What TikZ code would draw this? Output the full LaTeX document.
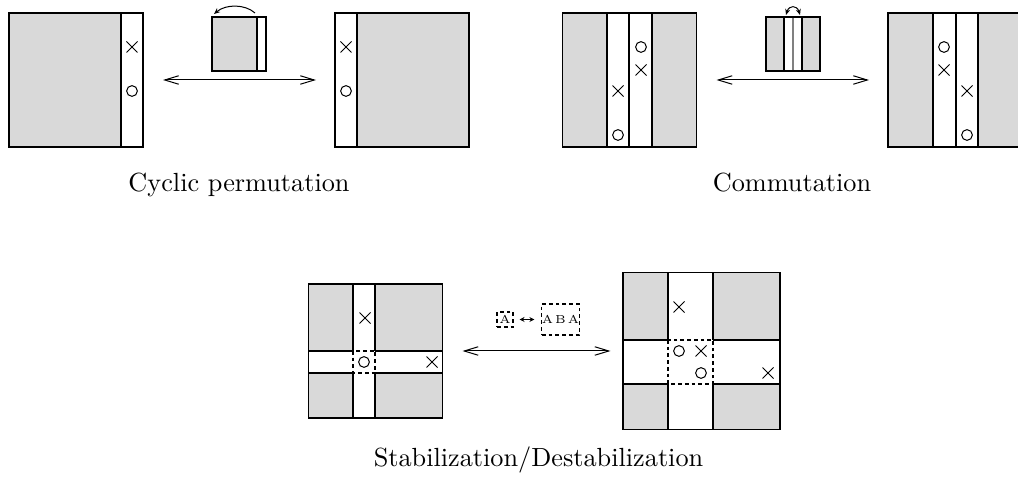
\documentclass[tikz,border=0pt]{standalone}
\usetikzlibrary{arrows.meta,shapes.misc}
\colorlet{tile}{black!15}
\begin{document}
\begin{tikzpicture}[
  x=0.4pt, y=-0.4pt, line width=0.42pt,
  frame/.style={draw, minimum size=#1, inner sep=0pt, outer sep=0pt},
  xmark/.style={cross out, draw, minimum size=4pt, inner sep=0pt, line width=0.4pt},
  omark/.style={circle, draw, minimum size=4.3pt, inner sep=0pt, line width=0.4pt},
  dbox/.style={draw, dash pattern=on 1.5pt off 1.2pt},
  move/.style={{Straight Barb[length=5.6pt,width=3.4pt]}-{Straight Barb[length=5.6pt,width=3.4pt]}, line width=0.4pt},
  twist/.style={-{Stealth[length=2.4pt,width=2pt]}, line width=0.4pt},
  lbl/.style={anchor=base, font=\fontsize{10.5}{12}\selectfont},
  tiny/.style={font=\fontsize{4.6}{5}\selectfont, inner sep=0pt}
]
\useasboundingbox (0,0) rectangle (1018,477);

\fill[tile] (9,13) rectangle (121,147);
\draw (121,13) -- (121,147);
\node[frame=53.6pt] (cpL) at (76,80) {};
  \node[xmark] (cpL-x) at (132,47) {};
  \node[omark] (cpL-o) at (132,91) {};
\fill[tile] (357,13) rectangle (469,147);
\draw (357,13) -- (357,147);
\node[frame=53.6pt] (cpR) at (402,80) {};
  \node[xmark] (cpR-x) at (346,47) {};
  \node[omark] (cpR-o) at (346,91) {};
\fill[tile] (212,17) rectangle (257,71);
\draw (257,17) -- (257,71);
\node[frame=21.6pt] (cpS) at (239,44) {};
  \coordinate (cpS-a) at (255,13);
  \coordinate (cpS-b) at (214,14);
  \draw[twist] (cpS-a) .. controls (245,4) and (226,4) .. (cpS-b);
\draw[move, shorten <=8pt, shorten >=7.6pt] (cpL) -- (cpR);
\node[lbl] (cp-lbl) at (239,192) {Cyclic permutation};

\fill[tile] (562,13) rectangle (607,147);
\fill[tile] (652,13) rectangle (697,147);
\draw (607,13) -- (607,147) (629,13) -- (629,147) (652,13) -- (652,147);
\node[frame=53.6pt] (cmL) at (629.5,80) {};
  \node[xmark] (cmL-x1) at (618,91) {};
  \node[omark] (cmL-o1) at (618,135) {};
  \node[omark] (cmL-o2) at (641,47) {};
  \node[xmark] (cmL-x2) at (641,70) {};
\fill[tile] (888,13) rectangle (933,147);
\fill[tile] (978,13) rectangle (1022,147);
\draw (933,13) -- (933,147) (956,13) -- (956,147) (978,13) -- (978,147);
\node[frame=53.6pt] (cmR) at (955,80) {};
  \node[omark] (cmR-o1) at (944,47) {};
  \node[xmark] (cmR-x1) at (944,70) {};
  \node[xmark] (cmR-x2) at (967,91) {};
  \node[omark] (cmR-o2) at (967,135) {};
\fill[tile] (766,17) rectangle (784,71);
\fill[tile] (802,17) rectangle (820,71);
\draw (784,17) -- (784,71) (802,17) -- (802,71);
\draw[gray] (793,17) -- (793,71);
\node[frame=21.6pt] (cmS) at (793,44) {};
  \coordinate (cmS-a) at (786,15);
  \coordinate (cmS-b) at (800,15);
  \draw[twist, {Stealth[length=2.4pt,width=2pt]}-{Stealth[length=2.4pt,width=2pt]}] (cmS-a) .. controls (789,5) and (797,5) .. (cmS-b);
\draw[move, shorten <=8pt, shorten >=7.6pt] (cmL) -- (cmR);
\node[lbl] (cm-lbl) at (792,192) {Commutation};

\fill[tile] (308,284) rectangle (353,351);
\fill[tile] (375,284) rectangle (443,351);
\fill[tile] (308,373) rectangle (353,418);
\fill[tile] (375,373) rectangle (443,418);
\draw (353,284) -- (353,351) (375,284) -- (375,351) (353,373) -- (353,418) (375,373) -- (375,418);
\draw (308,351) -- (353,351) (308,373) -- (353,373) (375,351) -- (443,351) (375,373) -- (443,373);
\draw[dbox] (353,351) rectangle (375,373);
\node[frame=53.6pt] (stL) at (375.5,351) {};
  \node[xmark] (stL-x1) at (365,318) {};
  \node[omark] (stL-o1) at (364,362) {};
  \node[xmark] (stL-x2) at (432,362) {};
\fill[tile] (623,273) rectangle (668,340);
\fill[tile] (713,273) rectangle (780,340);
\fill[tile] (623,384) rectangle (668,429);
\fill[tile] (713,384) rectangle (780,429);
\draw (668,273) -- (668,340) (713,273) -- (713,340) (668,384) -- (668,429) (713,384) -- (713,429);
\draw (623,340) -- (668,340) (623,384) -- (668,384) (713,340) -- (780,340) (713,384) -- (780,384);
\draw[dbox] (668,340) rectangle (713,384);
\node[frame=62.8pt] (stR) at (701.5,351) {};
  \node[xmark] (stR-x1) at (679,307) {};
  \node[omark] (stR-o1) at (679,351) {};
  \node[xmark] (stR-x2) at (701,351) {};
  \node[omark] (stR-o2) at (701,373) {};
  \node[xmark] (stR-x3) at (768,373) {};
\draw[move, shorten <=8pt, shorten >=5pt] (stL) -- (stR);
\node[dbox, tiny, minimum width=6.4pt, minimum height=6pt] (lgA) at (505,319.5) {A};
\node[dbox, tiny, minimum size=12.4pt] (lgABA) at (560.5,319.5) {A\,B\,A};
\draw[{Stealth[length=2pt,width=2pt]}-{Stealth[length=2pt,width=2pt]}, line width=0.6pt, shorten <=2.4pt, shorten >=2.8pt] (lgA) -- (lgABA);
\node[lbl] (st-lbl) at (538.5,467) {Stabilization/Destabilization};
\end{tikzpicture}
\end{document}
